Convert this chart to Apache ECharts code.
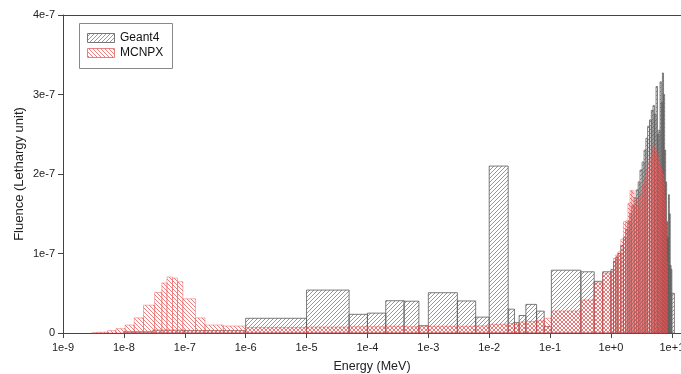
<!DOCTYPE html>
<html>
<head>
<meta charset="utf-8">
<script src="https://cdn.jsdelivr.net/npm/echarts@6/dist/echarts.min.js"></script>
<style>
  html, body { margin: 0; padding: 0; background: #fff; }
  #chart { width: 681px; height: 374px; }
</style>
</head>
<body>
<div id="chart"></div>
<script>
// energy decades on the x axis (log10 of MeV)
const xTickValues = [-9, -8, -7, -6, -5, -4, -3, -2, -1, 0, 1];
const xTickLabels = ['1e-9', '1e-8', '1e-7', '1e-6', '1e-5', '1e-4', '1e-3', '1e-2', '1e-1', '1e+0', '1e+1'];
const yTickLabels = ['0', '1e-7', '2e-7', '3e-7', '4e-7'];
const seriesNames = ['Geant4', 'MCNPX'];

// bin edges in MeV, fluence in units of 1e-7
const g4Edges = [1e-8, 3e-8, 1e-7, 1e-6, 1e-5, 5e-5, 1e-4, 2e-4, 4e-4, 7e-4, 1e-3, 3e-3, 6e-3, 1e-2,
  2.05e-2, 2.6e-2, 3.1e-2, 4e-2, 6e-2, 8e-2, 0.105, 0.32, 0.53, 0.73,
  1.0, 1.1, 1.2, 1.3, 1.45, 1.6, 1.75, 1.9, 2.05, 2.2, 2.4, 2.6, 2.8, 3.0, 3.25, 3.5, 3.75, 4.0,
  4.3, 4.6, 4.9, 5.2, 5.5, 5.8, 6.1, 6.4, 6.7, 7.0, 7.3, 7.6, 7.9, 8.2, 8.5, 8.8, 9.1, 9.4, 9.7, 10, 11];
const g4Values = [0.015, 0.035, 0.03, 0.185, 0.54, 0.235, 0.25, 0.406, 0.40, 0.09, 0.507, 0.403, 0.20,
  2.1, 0.30, 0.13, 0.22, 0.36, 0.275, 0.08, 0.79, 0.77, 0.65, 0.77,
  0.8, 0.9, 0.95, 1.0, 1.1, 1.2, 1.3, 1.4, 1.5, 1.6, 1.7, 1.8, 1.9, 2.05, 2.15, 2.3, 2.45,
  2.6, 2.68, 2.8, 2.86, 2.75, 3.1, 2.5, 2.55, 3.16, 2.9, 3.27, 3.0, 2.3, 1.9, 1.4, 1.2, 1.74, 1.5, 0.85, 0.8, 0.5];

const mcEdges = [3e-9, 3.6e-9, 5.4e-9, 7.4e-9, 1.05e-8, 1.48e-8, 2.1e-8, 3.2e-8, 4.2e-8, 5.1e-8, 6.3e-8,
  7.6e-8, 9.3e-8, 1.5e-7, 2.15e-7, 4.3e-7, 1e-6, 1e-5, 5e-5, 1e-4, 2e-4, 4e-4, 7e-4, 1e-3, 3e-3, 6e-3,
  1e-2, 2.05e-2, 2.6e-2, 3.1e-2, 4e-2, 6e-2, 8e-2, 0.105, 0.32, 0.53, 0.73,
  1.0, 1.1, 1.2, 1.3, 1.45, 1.6, 1.75, 1.9, 2.05, 2.2, 2.4, 2.6, 2.8, 3.0, 3.25, 3.5, 3.75, 4.0,
  4.3, 4.6, 4.9, 5.2, 5.5, 5.8, 6.1, 6.4, 6.7, 7.0, 7.3, 7.6, 7.9, 8.2, 8.5];
const mcValues = [0.002, 0.01, 0.03, 0.055, 0.10, 0.19, 0.35, 0.51, 0.63, 0.704, 0.69, 0.645, 0.43, 0.19,
  0.10, 0.088, 0.07, 0.075, 0.08, 0.08, 0.085, 0.08, 0.095, 0.085, 0.085, 0.09,
  0.11, 0.12, 0.11, 0.14, 0.145, 0.16, 0.185, 0.277, 0.415, 0.63, 0.75,
  0.78, 0.94, 0.98, 1.02, 1.18, 1.4, 1.41, 1.63, 1.79, 1.79, 1.63, 1.7, 1.59, 1.75, 1.85, 1.95,
  2.05, 2.15, 2.2, 2.3, 2.36, 2.25, 2.3, 2.2, 2.15, 2.1, 2.05, 2.0, 1.9, 1.7, 1.4, 0.9];

function toBins(edges, values) {
  return values.map((v, i) => [Math.log10(edges[i]), Math.log10(edges[i + 1]), v]);
}

function hatch(color, rising) {
  const s = 4;
  const c = document.createElement('canvas');
  c.width = s;
  c.height = s;
  const ctx = c.getContext('2d');
  ctx.strokeStyle = color;
  ctx.lineWidth = 0.9;
  ctx.beginPath();
  if (rising) {
    ctx.moveTo(-1, s + 1); ctx.lineTo(s + 1, -1);
    ctx.moveTo(-1, 1); ctx.lineTo(1, -1);
    ctx.moveTo(s - 1, s + 1); ctx.lineTo(s + 1, s - 1);
  } else {
    ctx.moveTo(-1, -1); ctx.lineTo(s + 1, s + 1);
    ctx.moveTo(s - 1, -1); ctx.lineTo(s + 1, 1);
    ctx.moveTo(-1, s - 1); ctx.lineTo(1, s + 1);
  }
  ctx.stroke();
  return { image: c, repeat: 'repeat' };
}

const g4Pattern = hatch('#8c8c8c', true);
const mcPattern = hatch('#ea7070', false);
const g4Stroke = '#5c5c5c';
const mcStroke = 'rgba(229, 72, 72, 0.7)';

function binRenderer(stroke, pattern, width) {
  return function (params, api) {
    const top = api.coord([api.value(0), api.value(2)]);
    const base = api.coord([api.value(1), 0]);
    return {
      type: 'rect',
      shape: { x: top[0], y: top[1], width: base[0] - top[0], height: base[1] - top[1] },
      style: { fill: pattern, stroke: stroke, lineWidth: width }
    };
  };
}

const labelFont = { color: '#222', fontSize: 11, fontFamily: 'Liberation Sans' };

const chart = echarts.init(document.getElementById('chart'));
chart.setOption({
  animation: false,
  backgroundColor: '#fff',
  grid: { left: 63, right: 0, top: 15, bottom: 41, outerBoundsMode: 'none', containLabel: false },
  xAxis: [
    {
      type: 'value',
      min: -9,
      max: 1.15,
      name: 'Energy (MeV)',
      nameLocation: 'middle',
      nameGap: 27,
      nameMoveOverlap: false,
      nameTextStyle: { color: '#222', fontSize: 12.5, fontFamily: 'Liberation Sans' },
      axisLine: { onZero: false, lineStyle: { color: '#444', width: 1 } },
      axisTick: { length: 5, lineStyle: { color: '#444' }, customValues: xTickValues },
      axisLabel: Object.assign({
        margin: 9,
        customValues: xTickValues,
        formatter: (v) => xTickLabels[xTickValues.indexOf(Math.round(v))] || ''
      }, labelFont),
      splitLine: { show: false }
    },
    {
      type: 'value',
      position: 'top',
      min: -9,
      max: 1.15,
      axisLine: { show: true, onZero: false, lineStyle: { color: '#444', width: 1 } },
      axisTick: { show: false },
      axisLabel: { show: false },
      splitLine: { show: false }
    }
  ],
  yAxis: {
    type: 'value',
    min: 0,
    max: 4,
    interval: 1,
    name: 'Fluence (Lethargy unit)',
    nameLocation: 'middle',
    nameGap: 37,
    nameMoveOverlap: false,
    nameTextStyle: { color: '#222', fontSize: 13, fontFamily: 'Liberation Sans' },
    axisLine: { show: true, onZero: false, lineStyle: { color: '#444', width: 1 } },
    axisTick: { show: true, length: 5, lineStyle: { color: '#444' } },
    axisLabel: Object.assign({ margin: 8, formatter: (v) => yTickLabels[Math.round(v)] }, labelFont),
    splitLine: { show: false }
  },
  series: [
    {
      name: seriesNames[0],
      type: 'custom',
      renderItem: binRenderer(g4Stroke, g4Pattern, 0.8),
      encode: { x: [0, 1], y: 2 },
      data: toBins(g4Edges, g4Values),
      silent: true
    },
    {
      name: seriesNames[1],
      type: 'custom',
      renderItem: binRenderer(mcStroke, mcPattern, 0.6),
      encode: { x: [0, 1], y: 2 },
      data: toBins(mcEdges, mcValues),
      silent: true
    }
  ],
  graphic: [
    { type: 'rect', shape: { x: 79.5, y: 23.5, width: 93, height: 45 }, style: { fill: '#fff', stroke: '#888', lineWidth: 1 } },
    { type: 'rect', shape: { x: 87.5, y: 33.5, width: 27, height: 9 }, style: { fill: g4Pattern, stroke: '#777', lineWidth: 1 } },
    { type: 'rect', shape: { x: 87.5, y: 48.5, width: 27, height: 9 }, style: { fill: mcPattern, stroke: '#e58080', lineWidth: 1 } },
    { type: 'text', x: 120, y: 38, style: { text: seriesNames[0], fill: '#111', font: '12px "Liberation Sans"', verticalAlign: 'middle' } },
    { type: 'text', x: 120, y: 53, style: { text: seriesNames[1], fill: '#111', font: '12px "Liberation Sans"', verticalAlign: 'middle' } }
  ]
});
</script>
</body>
</html>
